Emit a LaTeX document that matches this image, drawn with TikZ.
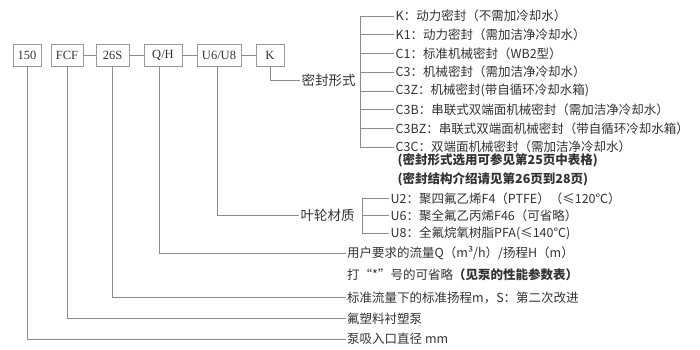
\documentclass[tikz,border=0pt]{standalone}
\usepackage{fontspec}
\setmainfont{Liberation Serif}
\newfontfamily\cjk{Noto Sans CJK SC}
\definecolor{linec}{HTML}{8C8C8C}
\definecolor{boxc}{HTML}{999999}
\definecolor{txt}{HTML}{333333}
\begin{document}
\begin{tikzpicture}[x=1pt,y=-1pt,
  box/.style={draw=boxc, line width=0.8pt, minimum height=22pt, inner sep=0pt, font=\fontsize{12.5}{13}\selectfont, text=txt},
  lbl/.style={anchor=west, inner sep=1.5pt, font=\cjk\fontsize{12.5}{13}\selectfont, text=txt},
  big/.style={lbl, font=\cjk\fontsize{13.5}{14}\selectfont},
  note/.style={lbl, font=\cjk\bfseries\fontsize{12.5}{13}\selectfont},
  ln/.style={draw=linec, line width=0.8pt}]
\useasboundingbox (0,0) rectangle (700,349);
% boxes
\node[box, minimum width=28pt] (b150) at (27,55) {150};
\node[box, minimum width=32pt] (fcf) at (67,55) {FCF};
\node[box, minimum width=33pt] (s26) at (112.5,55) {26S};
\node[box, minimum width=38pt] (qh) at (163,55) {Q/H};
\node[box, minimum width=44pt] (uu) at (219,55) {U6/U8};
\node[box, minimum width=28pt] (k) at (270,55) {K};
\draw[ln] (fcf) -- (s26);
\draw[ln] (s26) -- (qh);
\draw[ln] (qh) -- (uu);
\draw[ln] (uu) -- (k);
% seal type
\node[big] (mf) at (300,80) {密封形式};
\draw[ln] (k.south) |- (mf.west);
\coordinate (br) at (360,0);
\node[lbl] (s1) at (394,16) {K：动力密封（不需加冷却水）};
\node[lbl] (s2) at (394,34.7) {K1：动力密封（需加洁净冷却水）};
\node[lbl] (s3) at (394,53.4) {C1：标准机械密封（WB2型）};
\node[lbl] (s4) at (394,72.1) {C3：机械密封（需加洁净冷却水）};
\node[lbl] (s5) at (394,90.9) {C3Z：机械密封(带自循环冷却水箱)};
\node[lbl] (s6) at (394,109.6) {C3B：串联式双端面机械密封（需加洁净冷却水）};
\node[lbl] (s7) at (394,128.3) {C3BZ：串联式双端面机械密封（带自循环冷却水箱）};
\node[lbl] (s8) at (394,147) {C3C：双端面机械密封（需加洁净冷却水）};
\draw[ln] (s1.west -| br) -- (s8.west -| br);
\foreach \n in {s1,s2,s3,s4,s5,s6,s7,s8} \draw[ln] (\n.west -| br) -- (\n.west);
\node[note] (n1) at (396,160.5) {(密封形式选用可参见第25页中表格)};
\node[note] (n2) at (396,179) {(密封结构介绍请见第26页到28页)};
% impeller material
\node[big] (ym) at (299,215.5) {叶轮材质};
\draw[ln] ([xshift=-2pt]uu.south) |- (ym.west);
\coordinate (br2) at (362,0);
\node[lbl] (u2) at (389,198.5) {U2：聚四氟乙烯F4（PTFE）（≤120℃）};
\node[lbl] (u6) at (389,215.5) {U6：聚全氟乙丙烯F46（可省略）};
\node[lbl] (u8) at (389,233) {U8：全氟烷氧树脂PFA(≤140℃)};
\draw[ln] (u2.west -| br2) -- (u8.west -| br2);
\foreach \n in {u2,u6,u8} \draw[ln] (\n.west -| br2) -- (\n.west);
% bottom descriptions
\node[lbl] (q) at (345.5,253) {用户要求的流量Q（m³/h）/扬程H（m）};
\node[lbl] (star) at (345.5,275) {打“*”号的可省略\textbf{（见泵的性能参数表）}};
\node[lbl] (st) at (345.5,297.5) {标准流量下的标准扬程m，S：第二次改进};
\node[lbl] (fl) at (345.5,318.5) {氟塑料衬塑泵};
\node[lbl] (dl) at (345.5,339) {泵吸入口直径 mm};
\draw[ln] ([xshift=-4pt]qh.south) |- (q.west);
\draw[ln] ([xshift=-0.5pt]s26.south) |- (st.west);
\draw[ln] (fcf.south) |- (fl.west);
\draw[ln] (b150.south) |- (dl.west);
\end{tikzpicture}
\end{document}
